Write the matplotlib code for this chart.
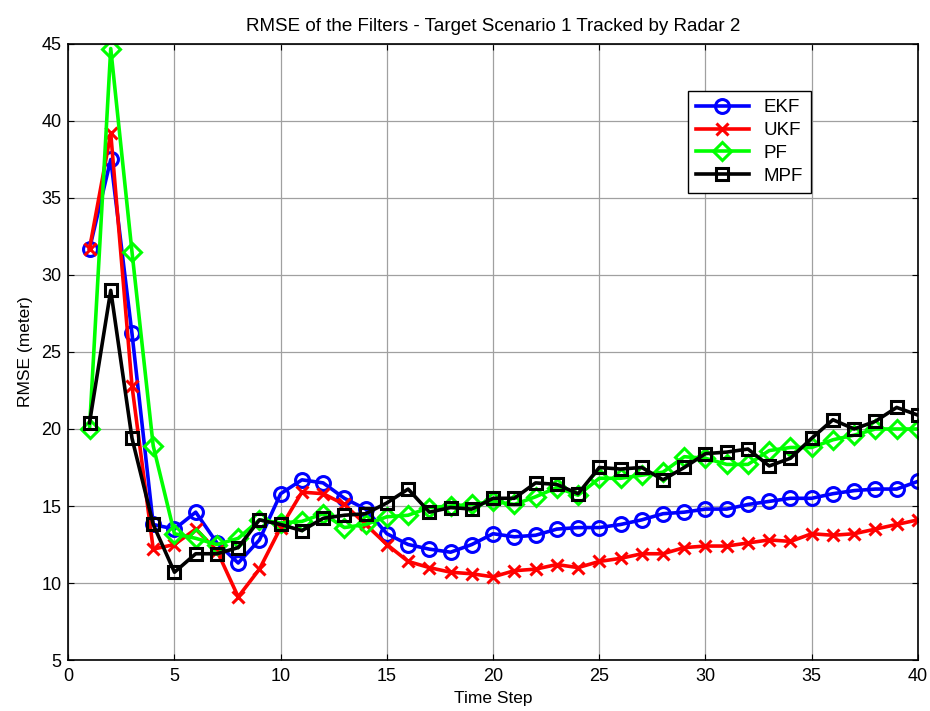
import numpy as np
import matplotlib.pyplot as plt

plt.rcParams['font.family'] = ['Liberation Sans', 'DejaVu Sans']

steps = np.arange(1, 41)

ekf = [31.7, 37.5, 26.2, 13.8, 13.5, 14.6, 12.6, 11.3, 12.8, 15.8,
       16.7, 16.5, 15.5, 14.8, 13.2, 12.5, 12.2, 12.0, 12.5, 13.2,
       13.0, 13.1, 13.5, 13.6, 13.6, 13.8, 14.1, 14.5, 14.6, 14.8,
       14.8, 15.1, 15.3, 15.5, 15.5, 15.8, 16.0, 16.1, 16.1, 16.6]
ukf = [31.7, 39.2, 22.8, 12.2, 12.5, 13.5, 12.1, 9.1, 10.9, 13.6,
       15.9, 15.8, 15.1, 13.8, 12.5, 11.4, 11.0, 10.7, 10.6, 10.4,
       10.8, 10.9, 11.2, 11.0, 11.4, 11.6, 11.9, 11.9, 12.3, 12.4,
       12.4, 12.6, 12.8, 12.7, 13.2, 13.1, 13.2, 13.5, 13.8, 14.1]
pf = [20.0, 44.7, 31.5, 18.9, 13.2, 12.9, 12.5, 12.9, 14.1, 13.9,
      14.0, 14.5, 13.6, 13.8, 14.3, 14.4, 14.9, 15.0, 15.1, 15.3,
      15.1, 15.6, 16.2, 15.7, 16.8, 16.8, 17.0, 17.2, 18.2, 18.1,
      17.7, 17.7, 18.6, 18.8, 18.8, 19.3, 19.6, 20.0, 20.0, 20.0]
mpf = [20.4, 29.0, 19.4, 13.8, 10.7, 11.9, 11.9, 12.3, 14.1, 13.8,
       13.4, 14.2, 14.4, 14.5, 15.2, 16.1, 14.6, 14.9, 14.8, 15.5,
       15.5, 16.5, 16.4, 15.8, 17.5, 17.4, 17.5, 16.7, 17.5, 18.4,
       18.5, 18.7, 17.6, 18.1, 19.4, 20.6, 20.0, 20.5, 21.4, 20.9]

fig = plt.figure(figsize=(9.3, 7.11), dpi=100)
ax = fig.add_axes([0.0734, 0.0717, 0.9136, 0.8665])

style = dict(lw=2.6, mew=2.2, mfc='none')
ax.plot(steps, ekf, color='#0000ff', marker='o', ms=10, label='EKF', **style)
ax.plot(steps, ukf, color='#ff0000', marker='x', ms=8, label='UKF', **style)
ax.plot(steps, pf, color='#00ff00', marker='D', ms=9, label='PF', **style)
ax.plot(steps, mpf, color='#000000', marker='s', ms=8, label='MPF', **style)

ax.set_xlim(0, 40)
ax.set_ylim(5, 45)
ax.set_xticks(np.arange(0, 41, 5))
ax.set_yticks(np.arange(5, 46, 5))
ax.grid(True, color='#a0a0a0', lw=0.9)
ax.tick_params(direction='in', top=True, right=True, labelsize=13, length=4)
ax.tick_params(axis='x', pad=6)
ax.tick_params(axis='y', pad=5)
for s in ax.spines.values():
    s.set_linewidth(1.2)

ax.set_title('RMSE of the Filters - Target Scenario 1 Tracked by Radar 2',
             fontsize=13.5, pad=9)
ax.set_xlabel('Time Step', fontsize=12.5, labelpad=4)
ax.set_ylabel('RMSE (meter)', fontsize=12.5, labelpad=6)

leg = ax.legend(loc='upper left', bbox_to_anchor=(0.729, 0.924), fontsize=13.5,
                fancybox=False, framealpha=1, edgecolor='black',
                handlelength=2.8, borderaxespad=0, labelspacing=0.3,
                borderpad=0.45)
leg.get_frame().set_linewidth(1.0)

fig.savefig('out.png', dpi=100)
